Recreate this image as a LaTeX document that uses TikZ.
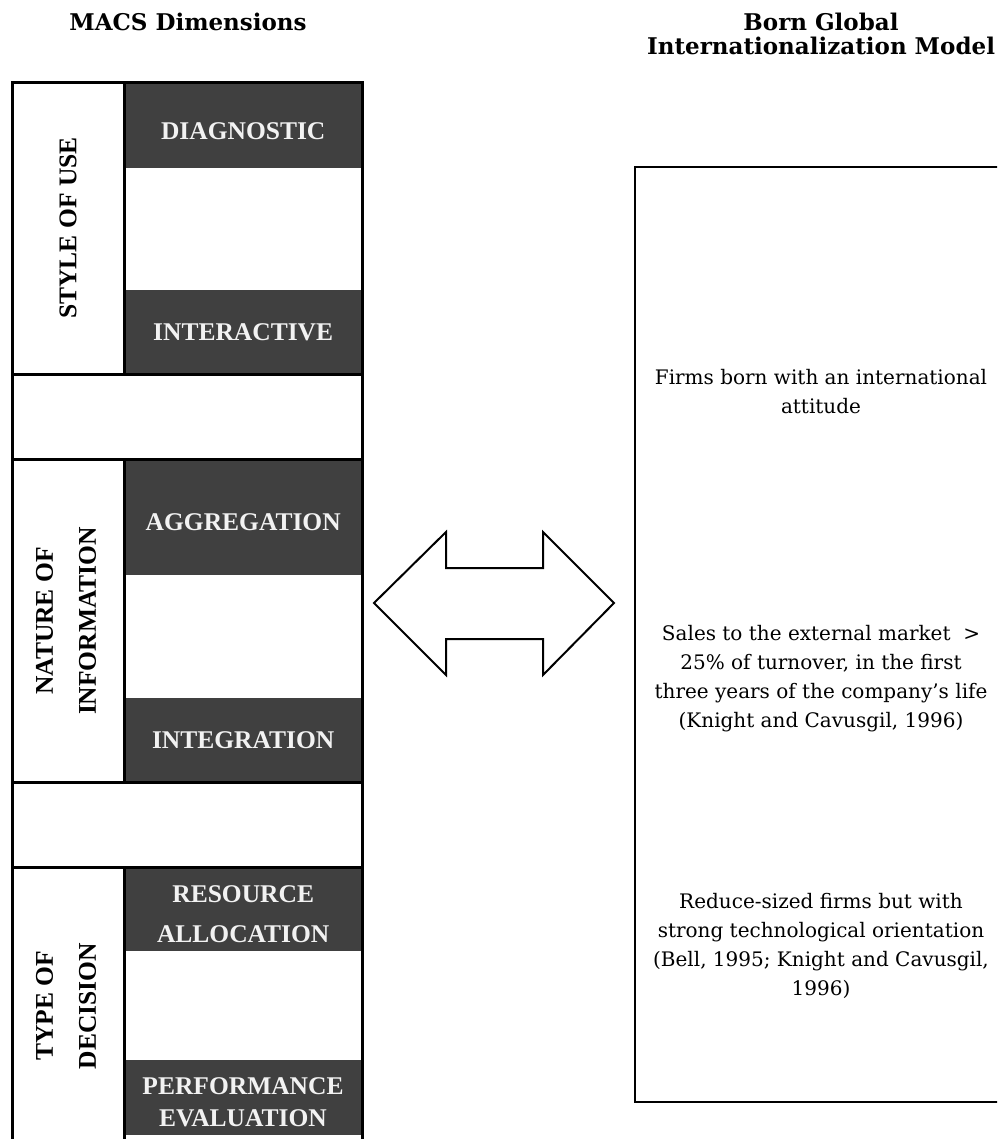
\documentclass[tikz,border=0pt]{standalone}
\usepackage{fontspec}
\setmainfont{DejaVu Serif}
\newfontfamily\cellfont{Liberation Serif}
\definecolor{cellgray}{HTML}{404040}
\definecolor{celltextcol}{HTML}{F2F2F2}
\begin{document}
\begin{tikzpicture}[x=1pt,y=-1pt,
  grid/.style={line width=3pt, line cap=rect},
  darkcell/.style={fill=cellgray, inner sep=0, anchor=north west, minimum width=238pt},
  celltext/.style={font=\cellfont\bfseries\fontsize{25.5}{40}\selectfont, text=celltextcol, align=center, inner sep=0},
  sidetext/.style={font=\cellfont\bfseries\fontsize{25.5}{43}\selectfont, align=center, rotate=90, inner sep=0},
  head/.style={font=\bfseries\fontsize{23}{25}\selectfont, align=center, inner sep=0, anchor=base},
  body/.style={font=\fontsize{20}{29}\selectfont, align=center, inner sep=0, anchor=north},
]
\useasboundingbox (0,0) rectangle (997,1139);
\clip (0,0) rectangle (997,1139);

% column headings
\node[head] (hmacs) at (188,31) {MACS Dimensions};
\node[head] (hborn) at (821,31) {Born Global};
\node[head] (hmodel) at (821,55) {Internationalization Model};

% dark cells of the MACS column
\node[darkcell, minimum height=85pt]  (diag)  at (124,83)  {};
\node[darkcell, minimum height=84pt]  (inter) at (124,290) {};
\node[darkcell, minimum height=116pt] (aggr)  at (124,459) {};
\node[darkcell, minimum height=84pt]  (integ) at (124,698) {};
\node[darkcell, minimum height=84pt]  (resal) at (124,867) {};
\node[darkcell, minimum height=75pt]  (perf)  at (124,1060) {};

% cell labels
\node[celltext] (tdiag)  at ([yshift=-5pt]diag.center)  {DIAGNOSTIC};
\node[celltext] (tinter) at (inter.center) {INTERACTIVE};
\node[celltext] (taggr)  at ([yshift=-5pt]aggr.center)  {AGGREGATION};
\node[celltext] (tinteg) at (integ.center) {INTEGRATION};
\node[celltext] (tresal) at ([yshift=-5pt]resal.center) {RESOURCE\\ALLOCATION};
\node[celltext, font=\cellfont\bfseries\fontsize{25.5}{32}\selectfont] (tperf) at (243,1102.5) {PERFORMANCE\\EVALUATION};

% dimension labels
\node[sidetext] (style)  at (68,228)  {STYLE OF USE};
\node[sidetext] (nature) at (66,621)  {NATURE OF\\INFORMATION};
\node[sidetext] (type)   at (66,1006) {TYPE OF\\DECISION};

% grid of the MACS column
\draw[grid] (12,83) rectangle (362,374.5);
\draw[grid] (12,374.5) rectangle (362,459);
\draw[grid] (12,459) rectangle (362,782);
\draw[grid] (12,782) rectangle (362,867);
\draw[grid] (12,1145) -- (12,867) -- (362,867) -- (362,1145);
\draw[grid] (124,83) -- (124,374.5);
\draw[grid] (124,459) -- (124,782);
\draw[grid] (124,867) -- (124,1145);

% two-headed arrow
\draw[line width=2pt, line join=miter]
  (374,603) -- (446,532) -- (446,568) -- (543,568) -- (543,532) -- (614,603)
  -- (543,675) -- (543,639) -- (446,639) -- (446,675) -- cycle;

% Born Global column
\draw[line width=2.2pt] (635,167) rectangle (1008,1102);
\node[body] (attitude) at (821,369) {Firms born with an international\\attitude};
\node[body] (sales) at (821,625.5) {Sales to the external market \ >\\25\% of turnover, in the first\\three years of the company’s life\\(Knight and Cavusgil, 1996)};
\node[body] (size) at (821,893) {Reduce-sized firms but with\\strong technological orientation\\(Bell, 1995; Knight and Cavusgil,\\1996)};
\end{tikzpicture}
\end{document}
